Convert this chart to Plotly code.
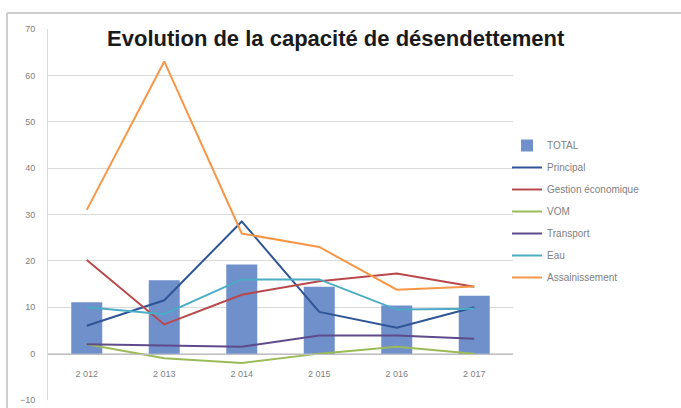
import plotly.graph_objects as go

years = ["2 012", "2 013", "2 014", "2 015", "2 016", "2 017"]
total = [11.1, 15.8, 19.2, 14.4, 10.4, 12.5]
principal = [6.0, 11.5, 28.5, 9.0, 5.6, 10.0]
gestion = [20.2, 6.3, 12.7, 15.6, 17.3, 14.4]
vom = [2.0, -1.0, -2.0, 0.0, 1.5, 0.0]
transport = [2.0, 1.8, 1.5, 3.9, 3.9, 3.2]
eau = [10.0, 8.5, 16.0, 16.0, 9.5, 9.7]
assainissement = [31.0, 63.0, 25.9, 23.0, 13.8, 14.5]

W, H = 681, 408
L, R, T, B = 48, 168, 29, 8
pw, ph = W - L - R, H - T - B

fig = go.Figure()
fig.add_trace(go.Bar(x=years, y=total, name="TOTAL", marker_color="#7090CB",
                     marker_line_width=0, legendgroup="a"))
series = [
    ("Principal", principal, "#2F5597"),
    ("Gestion économique", gestion, "#B9484A"),
    ("VOM", vom, "#9BBB59"),
    ("Transport", transport, "#5F4B8B"),
    ("Eau", eau, "#4BACC6"),
    ("Assainissement", assainissement, "#F79646"),
]
for i, (n, v, c) in enumerate(series):
    fig.add_trace(go.Scatter(x=years, y=v, name=n, mode="lines",
                             line=dict(color=c, width=2), legendgroup="g%d" % i))

fig.update_layout(
    width=W, height=H,
    margin=dict(l=L, r=R, t=T, b=B, autoexpand=False),
    paper_bgcolor="white", plot_bgcolor="white",
    bargap=0.6,
    font=dict(family="Liberation Sans, Arial, sans-serif", color="#595959"),
    title=dict(text="<b>Evolution de la capacité de désendettement</b>",
               x=0.493, xref="container", xanchor="center",
               y=1 - 38 / H, yref="container", yanchor="middle",
               font=dict(size=22, color="#1a1a1a", family="Liberation Sans, Arial, sans-serif")),
    xaxis=dict(anchor="free", position=10 / 80, showline=True, linecolor="#BFBFBF",
               linewidth=1, ticks="", showgrid=False, automargin=False,
               tickfont=dict(size=9, color="#7F7F7F"), ticklabelstandoff=12),
    yaxis=dict(range=[-10, 70], dtick=10, showgrid=True, gridcolor="#D9D9D9",
               zeroline=False, showline=True, linecolor="#D9D9D9", automargin=False,
               tickfont=dict(size=9, color="#7F7F7F"), ticklabelstandoff=10),
    legend=dict(x=(507 - L) / pw, xanchor="left", y=(H - B - 131) / ph, yanchor="top",
                font=dict(size=10, color="#7F7F7F"), traceorder="grouped",
                tracegroupgap=3, bgcolor="rgba(0,0,0,0)"),
    showlegend=True,
)
fig.add_shape(type="line", xref="paper", yref="paper",
              x0=(7 - L) / pw, x1=(W + 5 - L) / pw,
              y0=(H - B - 13) / ph, y1=(H - B - 13) / ph,
              line=dict(color="#BFBFBF", width=1.5))
fig.add_shape(type="line", xref="paper", yref="paper",
              x0=(7 - L) / pw, x1=(7 - L) / pw,
              y0=(H - B - 13) / ph, y1=-0.1,
              line=dict(color="#BFBFBF", width=1.5))
fig.write_html("out.html")
